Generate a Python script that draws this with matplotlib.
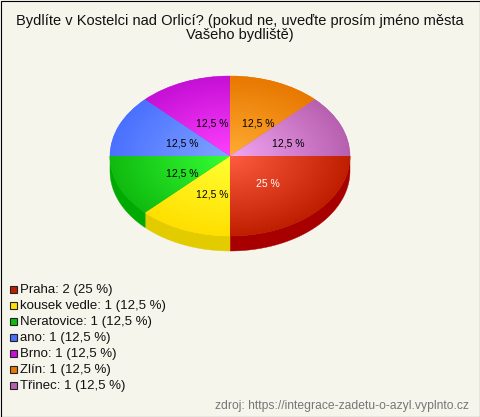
import matplotlib
matplotlib.use("Agg")
import matplotlib.pyplot as plt
import numpy as np
from matplotlib.colors import to_rgb
from matplotlib.patches import Rectangle

plt.rcParams["font.family"] = ["Liberation Sans", "DejaVu Sans"]

title = "Bydlíte v Kostelci nad Orlicí? (pokud ne, uveďte prosím jméno města\nVašeho bydliště)"
source = "zdroj: https://integrace-zadetu-o-azyl.vyplnto.cz"
categories = ["Praha", "kousek vedle", "Neratovice", "ano", "Brno", "Zlín", "Třinec"]
counts = [2, 1, 1, 1, 1, 1, 1]
shares = ["25", "12,5", "12,5", "12,5", "12,5", "12,5", "12,5"]

rim_colors = ["#bf1f00", "#ffdf00", "#10bb10", "#4a70ff", "#c510d5", "#e87800", "#b860b0"]
center_colors = ["#ff5c40", "#ffff33", "#35ff35", "#80a4ff", "#ff40ff", "#ffac33", "#f2a6f2"]
side_colors = ["#a80000", "#e2cc00", "#00aa00", "#3050d0", "#a000b0", "#c06000", "#905090"]
label_colors = ["white", "black", "black", "black", "black", "black", "black"]
# label nudges in pixels
label_dx = [-1, 3.5, 3.5, 3.5, 3, 7, 7]
label_dy = [0, 3, 1, 0, -1, -1, 0]

W, H = 480, 417
BG = "#f5f5ec"
DEPTH = 15 / 80

fig = plt.figure(figsize=(W / 100, H / 100), dpi=100, facecolor=BG)

# overlay in pixel coords for frame, title, legend
bg = fig.add_axes([0, 0, 1, 1])
bg.set_xlim(0, W)
bg.set_ylim(H, 0)
bg.axis("off")
bg.add_patch(Rectangle((0.5, 0.5), W - 1, H - 1, fill=False, ec="black", lw=0.8))
bg.text(240, 28, title, ha="center", va="center", fontsize=10.55, color="#111111", linespacing=1.08)

for i, (cat, n, s) in enumerate(zip(categories, counts, shares)):
    y = 289 + 16 * i
    bg.add_patch(Rectangle((9.5, y - 3.5), 7, 7, fc=rim_colors[i], ec="#222222", lw=0.8))
    bg.text(20, y, f"{cat}: {n} ({s} %)", va="center_baseline", fontsize=9.5, color="#111111")

bg.text(469, 405, source, ha="right", va="center_baseline", fontsize=8.7, color="#777777")

# pie axes: x and y both -1..1 on the ellipse, extended below for the side
ax = fig.add_axes([110 / W, 1 - 251 / H, 240 / W, 175 / H])
ax.patch.set_visible(False)

total = sum(counts)
ends = np.cumsum(counts) / total * 360
starts = np.r_[0, ends[:-1]]

# side band for slices in the lower half
for a0, a1, col in zip(starts, ends, side_colors):
    if a0 >= 180:
        continue
    t = np.radians(np.linspace(a0, min(a1, 180), 60))
    xs = np.r_[np.cos(t), np.cos(t)[::-1]]
    ys = np.r_[-np.sin(t), -np.sin(t)[::-1] - DEPTH]
    ax.fill(xs, ys, color=col, lw=0.3, clip_on=False)

wedges, _, autotexts = ax.pie(
    counts,
    startangle=0,
    counterclock=False,
    radius=1,
    autopct="%.1f",
    pctdistance=0.46,
    textprops={"fontsize": 7.5},
)
ax.set_aspect("auto")
ax.set_xlim(-1, 1)
ax.set_ylim(-1 - DEPTH, 1)

# radial gradient inside every slice
gx, gy = np.meshgrid(np.linspace(-1, 1, 480), np.linspace(1, -1, 320))
r = np.clip(np.hypot(gx, gy), 0, 1)[..., None]
for wedge, c0, c1 in zip(wedges, center_colors, rim_colors):
    wedge.set_facecolor(c1)
    wedge.set_edgecolor(c1)
    wedge.set_linewidth(0.3)
    rgb = np.array(to_rgb(c0)) * (1 - r) + np.array(to_rgb(c1)) * r
    im = ax.imshow(rgb, extent=(-1, 1, -1, 1), aspect="auto", zorder=wedge.get_zorder() + 0.1,
                   interpolation="bilinear")
    im.set_clip_path(wedge)
ax.set_xlim(-1, 1)
ax.set_ylim(-1 - DEPTH, 1)

for txt, s, col, dx, dy in zip(autotexts, shares, label_colors, label_dx, label_dy):
    txt.set_text(f"{s} %")
    txt.set_color(col)
    txt.set_zorder(10)
    x, y = txt.get_position()
    txt.set_position((x + dx / 120, y - (2 + dy) / 80))

fig.savefig("out.png", dpi=100, facecolor=BG)
